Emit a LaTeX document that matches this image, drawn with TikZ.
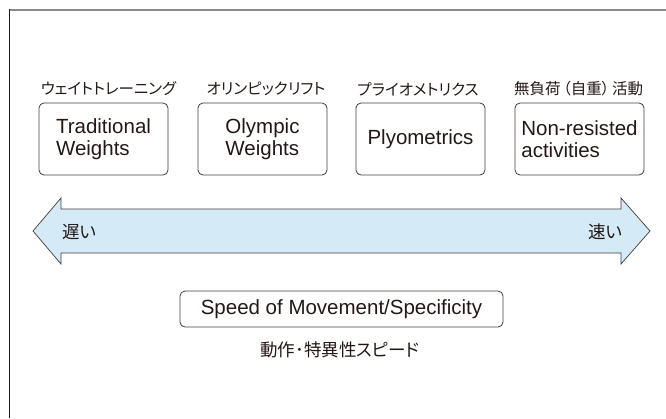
\documentclass[tikz,border=0pt]{standalone}
\usepackage{fontspec}
\setmainfont{Liberation Sans}
\newfontfamily\jpfont[RawFeature=+palt]{Noto Sans CJK JP}
\definecolor{ink}{HTML}{231815}
\definecolor{arrowfill}{HTML}{D4EBF7}
\definecolor{framegray}{HTML}{8A8A8A}
\begin{document}
\begin{tikzpicture}[x=1pt,y=-1pt,
  catbox/.style={draw=ink!85,line width=0.8pt,rounded corners=5pt,minimum width=129pt,minimum height=72pt,align=left,inner sep=0pt,font=\fontsize{20.5}{22}\selectfont,text=ink},
  jplabel/.style={font=\jpfont\fontsize{15.5}{17}\selectfont,text=ink,inner sep=0pt},
  jpbig/.style={font=\jpfont\fontsize{17.5}{18}\selectfont,text=ink,inner sep=0pt},
  speedbox/.style={draw=ink!85,line width=0.8pt,rounded corners=5pt,minimum width=323pt,minimum height=36pt,inner sep=0pt,font=\fontsize{20.5}{22}\selectfont,text=ink}]
\useasboundingbox (0,0) rectangle (666,418);
% frame
\draw[framegray,line width=2pt] (9,9.5) -- (666,9.5);
\draw[ink,line width=1.5pt] (9.5,9) -- (9.5,418);
% boxes
\node[catbox] (tw) at (103.5,139) {Traditional\\Weights};
\node[catbox] (ow) at (262.5,139) {Olympic\\Weights};
\node[catbox] (pl) at (420.5,139) {Plyometrics};
\node[catbox] (nr) at (579.5,139) {Non-resisted\\activities};
% japanese labels
\node[jplabel] (twj) at (108.5,89) {ウェイトトレーニング};
\node[jplabel] (owj) at (266,89) {オリンピックリフト};
\node[jplabel] (plj) at (418,89) {プライオメトリクス};
\node[jplabel] (nrj) at (578.5,89) {無負荷\kern2.5pt（自重）\kern2.5pt活動};
% double arrow
\draw[ink!85,line width=0.7pt,fill=arrowfill,line join=miter]
  (33,231) -- (61,198) -- (61,209) -- (621,209) -- (621,198) -- (650,231)
  -- (621,264) -- (621,253) -- (61,253) -- (61,264) -- cycle;
\node[jpbig,anchor=west] (slow) at (62,232) {遅い};
\node[jpbig,anchor=east] (fast) at (623,232) {速い};
% speed box
\node[speedbox] (speed) at (341.5,309) {Speed of Movement/Specificity};
\node[jpbig] (speedj) at (340,349.5) {動作･特異性スピード};
\end{tikzpicture}
\end{document}
